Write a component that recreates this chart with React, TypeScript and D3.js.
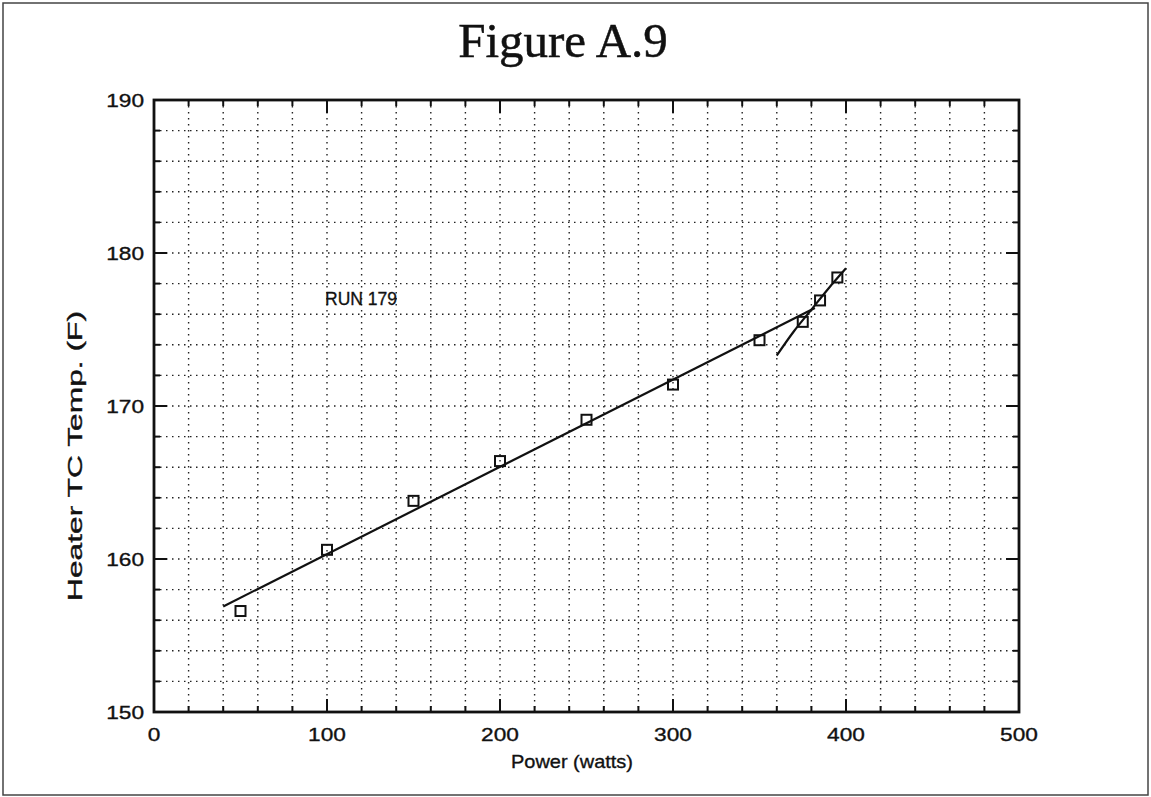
import React from "react";
import * as d3 from "d3";

// Measured heater thermocouple temperature vs. applied power (RUN 179)
const powerWatts = [50, 100, 150, 200, 250, 300, 350, 375, 385, 395];
const heaterTempF = [156.6, 160.6, 163.8, 166.4, 169.1, 171.4, 174.3, 175.5, 176.9, 178.4];

// Linear fit over the main range
const fitPower = [40, 382];
const fitTemp = [156.9, 176.4];

// Steeper fit through the high-power points
const upperPower = [360, 370, 380, 390, 400];
const upperTemp = [173.3, 174.9, 176.3, 177.7, 179.0];

const xMajorTicks = [0, 100, 200, 300, 400, 500];
const yMajorTicks = [150, 160, 170, 180, 190];

const W = 1151;
const H = 797;
const plot = { left: 154, right: 1019, top: 100, bottom: 712 };

const sans = "'Liberation Sans', Arial, Helvetica, sans-serif";
const serif = "'Liberation Serif', 'Times New Roman', Times, serif";

export default function App() {
  const x = d3.scaleLinear().domain([0, 500]).range([plot.left, plot.right]);
  const y = d3.scaleLinear().domain([150, 190]).range([plot.bottom, plot.top]);

  const xMinor = d3.range(20, 500, 20);
  const yMinor = d3.range(152, 190, 2);
  const xAllTicks = d3.range(0, 501, 20);
  const yAllTicks = d3.range(150, 191, 2);

  const line = d3
    .line<[number, number]>()
    .x((d) => x(d[0]))
    .y((d) => y(d[1]));
  const curve = d3
    .line<[number, number]>()
    .x((d) => x(d[0]))
    .y((d) => y(d[1]))
    .curve(d3.curveMonotoneX);

  const fitPath = line(fitPower.map((p, i) => [p, fitTemp[i]]));
  const upperPath = curve(upperPower.map((p, i) => [p, upperTemp[i]]));

  const major = 13;
  const minor = 6;
  const sq = 10;

  const textInk = { fill: "#111", stroke: "#111", strokeWidth: 0.35 };

  return (
    <svg
      width={W}
      height={H}
      viewBox={`0 0 ${W} ${H}`}
      style={{ position: "absolute", left: 0, top: 0, display: "block", background: "#fff" }}
    >
      {/* page frame */}
      <rect x={3} y={3} width={1145} height={792} fill="none" stroke="#444" strokeWidth={1.5} />

      <text x={563} y={57} textAnchor="middle" fontFamily={serif} fontSize={49} {...textInk} strokeWidth={0.5}>
        Figure A.9
      </text>

      {/* dotted grid */}
      <g stroke="#222" strokeWidth={1.4} strokeDasharray="1.5 4.5">
        {xMinor.map((v) => (
          <line key={"gx" + v} x1={x(v)} x2={x(v)} y1={plot.top} y2={plot.bottom} />
        ))}
        {yMinor.map((v) => (
          <line key={"gy" + v} x1={plot.left} x2={plot.right} y1={y(v)} y2={y(v)} />
        ))}
      </g>

      {/* inward ticks on all four sides */}
      <g stroke="#111" strokeWidth={2}>
        {xAllTicks.map((v) => {
          const len = v % 100 === 0 ? major : minor;
          return (
            <g key={"tx" + v}>
              <line x1={x(v)} x2={x(v)} y1={plot.bottom} y2={plot.bottom - len} />
              <line x1={x(v)} x2={x(v)} y1={plot.top} y2={plot.top + len} />
            </g>
          );
        })}
        {yAllTicks.map((v) => {
          const len = v % 10 === 0 ? major : minor;
          return (
            <g key={"ty" + v}>
              <line x1={plot.left} x2={plot.left + len} y1={y(v)} y2={y(v)} />
              <line x1={plot.right} x2={plot.right - len} y1={y(v)} y2={y(v)} />
            </g>
          );
        })}
      </g>

      <rect
        x={plot.left}
        y={plot.top}
        width={plot.right - plot.left}
        height={plot.bottom - plot.top}
        fill="none"
        stroke="#111"
        strokeWidth={2.8}
      />

      {/* tick labels */}
      <g fontFamily={sans} fontSize={19} {...textInk}>
        {xMajorTicks.map((v) => {
          const s = String(v);
          return (
            <text
              key={"lx" + v}
              x={x(v)}
              y={740.5}
              textAnchor="middle"
              textLength={s.length * 12.6}
              lengthAdjust="spacingAndGlyphs"
            >
              {s}
            </text>
          );
        })}
        {yMajorTicks.map((v) => {
          const s = String(v);
          return (
            <text
              key={"ly" + v}
              x={144}
              y={y(v) + 7}
              textAnchor="end"
              textLength={s.length * 12.6}
              lengthAdjust="spacingAndGlyphs"
            >
              {s}
            </text>
          );
        })}
      </g>

      {/* axis titles */}
      <text
        x={572}
        y={768}
        textAnchor="middle"
        fontFamily={sans}
        fontSize={19}
        {...textInk}
        textLength={122}
        lengthAdjust="spacingAndGlyphs"
      >
        Power (watts)
      </text>
      <text
        transform={`translate(82, 456) rotate(-90)`}
        textAnchor="middle"
        fontFamily={sans}
        fontSize={20}
        {...textInk}
        textLength={290}
        lengthAdjust="spacingAndGlyphs"
      >
        Heater TC Temp. (F)
      </text>

      <text
        x={325}
        y={305}
        fontFamily={sans}
        fontSize={19}
        {...textInk}
        textLength={72}
        lengthAdjust="spacingAndGlyphs"
      >
        RUN 179
      </text>

      {/* fit lines */}
      <path d={fitPath ?? ""} fill="none" stroke="#111" strokeWidth={2.2} />
      <path d={upperPath ?? ""} fill="none" stroke="#111" strokeWidth={2.2} />

      {/* measured points */}
      <g fill="none" stroke="#111" strokeWidth={2}>
        {powerWatts.map((p, i) => (
          <rect key={"pt" + i} x={x(p) - sq / 2} y={y(heaterTempF[i]) - sq / 2} width={sq} height={sq} />
        ))}
      </g>
    </svg>
  );
}
